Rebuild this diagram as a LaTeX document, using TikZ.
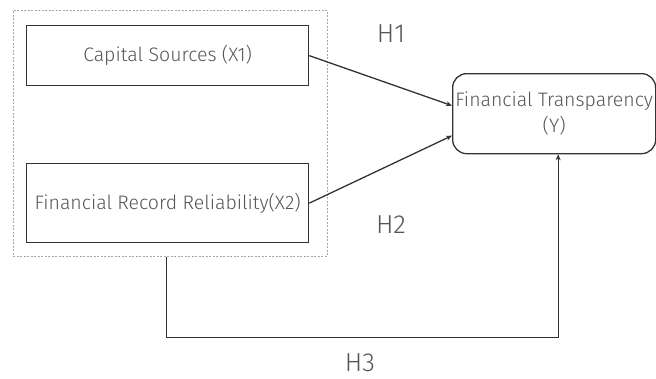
\documentclass[tikz,border=0pt]{standalone}
\usepackage{fontspec}
\setmainfont{Fira Sans Light}
\usetikzlibrary{arrows.meta}
\definecolor{ink}{HTML}{333333}
\definecolor{txt}{HTML}{555555}
\tikzset{
  box/.style={draw=ink, line width=1.3pt, anchor=north west, inner sep=0pt,
              text=txt, font=\fontsize{19.5}{26}\selectfont, align=center},
  group/.style={draw=gray!70, dashed, dash pattern=on 2pt off 1.5pt, line width=0.8pt,
                anchor=north west, inner sep=0pt},
  link/.style={draw=ink, line width=1.3pt, -{Stealth[length=6pt,width=5pt]}},
  hyp/.style={text=txt, font=\fontsize{26}{30}\selectfont, anchor=base, inner sep=0pt}
}
\begin{document}
\begin{tikzpicture}[x=1pt, y=-1pt]
  \useasboundingbox (0,0) rectangle (656,378);
  % grouping frame around the two predictors
  \node[group, minimum width=314pt, minimum height=246pt] (grp) at (13,10) {};
  \node[box, minimum width=282pt, minimum height=60pt] (x1) at (26,25) {Capital Sources (X1)};
  \node[box, minimum width=282pt, minimum height=79pt] (x2) at (26,163) {Financial Record Reliability(X2)};
  \node[box, rounded corners=14pt, minimum width=203pt, minimum height=80pt] (yv) at (452,73)
    {Financial Transparency\\(Y)};
  % hypothesised paths
  \draw[link] (x1.east) -- ([yshift=8pt]yv.west);
  \draw[link] (x2.east) -- ([yshift=-22pt]yv.west);
  \draw[link] ([xshift=-4pt]grp.south) -- ++(0,81) -| ([xshift=4pt]yv.south);
  \node[hyp] (h1) at (391,42) {H1};
  \node[hyp] (h2) at (391,233) {H2};
  \node[hyp] (h3) at (360,371) {H3};
\end{tikzpicture}
\end{document}
